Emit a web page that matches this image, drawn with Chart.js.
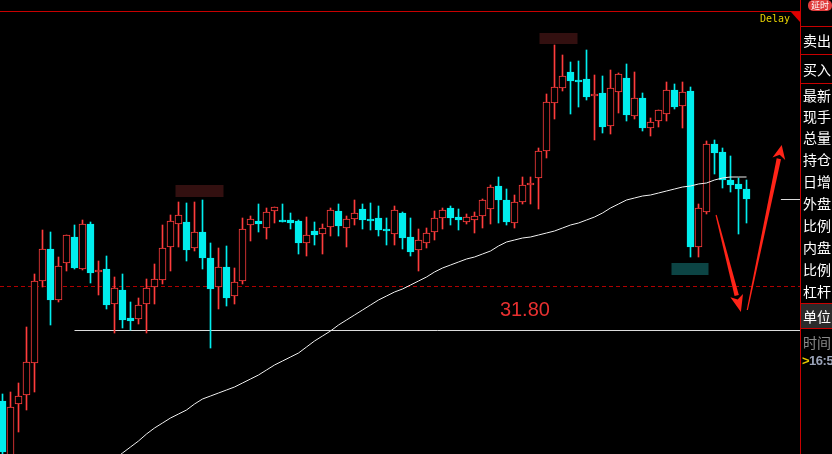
<!DOCTYPE html>
<html lang="zh">
<head>
<meta charset="UTF-8">
<title>K线图</title>
<script src="https://cdn.jsdelivr.net/npm/chart.js@4.4.1/dist/chart.umd.min.js"></script>
<style>
  html, body { margin: 0; padding: 0; background: #000; width: 832px; height: 454px; overflow: hidden; }
  #chart { position: absolute; left: 0; top: 0; }
  #topline { position: absolute; left: 0; top: 11px; width: 801px; height: 1px; background: #c80000; }
  #delay { position: absolute; left: 760px; top: 13px; font: 10px "DejaVu Sans Mono", monospace; color: #e6d200; }
  #corner { position: absolute; left: 791px; top: 12px; width: 0; height: 0;
            border-top: 10px solid #e00000; border-left: 9px solid transparent; }
  #panel { position: absolute; left: 800px; top: 0; width: 32px; height: 454px; border-left: 1px solid #c80000;
           font-family: "Noto Sans CJK SC", sans-serif; color: #fff; font-size: 14px; overflow: hidden; }
  .row { position: absolute; left: 2px; line-height: 16px; white-space: nowrap; }
  .hl { position: absolute; left: 0; width: 32px; height: 1px; background: #c80000; }
  #badge { position: absolute; left: 7px; top: 0px; width: 24px; height: 11px; border-radius: 5px;
           background: #e03c3c; color: #fff; font-size: 9px; line-height: 11px; text-align: center; }
  #unit { position: absolute; left: 0; top: 304px; width: 32px; height: 24px; background: #2b2b2b; }
</style>
</head>
<body>
<canvas id="chart" width="800" height="454"></canvas>
<div id="topline"></div>
<div id="delay">Delay</div>
<div id="corner"></div>
<div id="panel">
  <div id="badge">延时</div>
  <div class="hl" style="top:26px"></div>
  <div class="row" style="top:32px">卖出</div>
  <div class="hl" style="top:54px"></div>
  <div class="row" style="top:61px">买入</div>
  <div class="hl" style="top:83px"></div>
  <div class="row" style="top:87px">最新</div>
  <div class="row" style="top:108px">现手</div>
  <div class="row" style="top:129px">总量</div>
  <div class="row" style="top:151px">持仓</div>
  <div class="row" style="top:173px">日增</div>
  <div class="row" style="top:195px">外盘</div>
  <div class="row" style="top:217px">比例</div>
  <div class="row" style="top:239px">内盘</div>
  <div class="row" style="top:261px">比例</div>
  <div class="row" style="top:283px">杠杆</div>
  <div class="hl" style="top:303px"></div>
  <div id="unit"></div>
  <div class="row" style="top:308px">单位</div>
  <div class="hl" style="top:328px"></div>
  <div class="row" style="top:334px;color:#8a8a8a">时间</div>
  <div class="row" style="top:353px;left:1px;color:#9aa3b8;font-weight:bold;font-size:13px;letter-spacing:-0.5px;font-family:'Liberation Sans',sans-serif"><span style="color:#e6c800">&gt;</span>16:5</div>
</div>
<script>
// OHLC, one entry per candle
const opens = [31.09, 30.55, 31.06, 31.15, 31.47, 32.29, 32.61, 32.10, 32.47, 32.73,
  32.41, 32.86, 32.38, 32.41, 32.06, 32.20, 31.92, 31.91, 32.06, 32.23,
  32.30, 32.63, 32.86, 32.88, 32.62, 32.78, 32.52, 32.23, 32.43, 32.14,
  32.29, 32.85, 32.89, 32.82, 32.99, 32.90, 32.90, 32.89, 32.67, 32.79,
  32.76, 32.83, 32.99, 32.82, 32.91, 33.01, 32.91, 32.92, 32.81, 32.76,
  32.97, 32.73, 32.60, 32.67, 32.78, 32.92, 33.02, 32.93, 32.88, 32.90,
  32.94, 33.01, 33.24, 33.10, 32.87, 33.08, 33.25, 33.32, 33.59, 34.07,
  34.22, 34.38, 34.30, 34.31, 34.14, 34.17, 33.84, 34.18, 34.32, 33.94,
  34.12, 33.82, 33.89, 33.96, 34.20, 34.04, 34.19, 32.63, 32.98, 33.66,
  33.58, 33.30, 33.26, 33.21];
const highs = [31.16, 31.18, 31.27, 31.83, 32.36, 32.80, 32.78, 32.53, 32.75, 32.85,
  32.90, 32.88, 32.49, 32.54, 32.33, 32.36, 32.08, 32.12, 32.31, 32.46,
  32.85, 32.95, 33.08, 33.07, 33.08, 33.10, 32.67, 32.62, 32.64, 32.42,
  32.92, 32.94, 33.06, 33.02, 33.03, 33.06, 32.97, 32.90, 32.93, 32.88,
  32.86, 33.02, 33.06, 32.94, 33.10, 33.06, 33.07, 33.04, 32.92, 33.04,
  32.98, 32.92, 32.81, 32.82, 32.99, 33.02, 33.04, 33.01, 32.96, 32.98,
  33.11, 33.25, 33.33, 33.21, 33.15, 33.33, 33.33, 33.62, 34.16, 34.65,
  34.55, 34.48, 34.49, 34.60, 34.35, 34.34, 34.40, 34.37, 34.46, 34.38,
  34.17, 33.92, 34.00, 34.28, 34.26, 34.28, 34.23, 33.06, 33.69, 33.70,
  33.62, 33.54, 33.32, 33.30];
const lows = [30.50, 30.50, 30.78, 31.00, 31.18, 32.23, 31.85, 32.08, 32.39, 32.41,
  32.40, 32.27, 32.15, 32.01, 31.77, 31.82, 31.80, 31.86, 31.77, 32.06,
  32.26, 32.39, 32.63, 32.49, 32.59, 32.41, 31.62, 32.01, 32.04, 32.06,
  32.26, 32.69, 32.78, 32.71, 32.87, 32.88, 32.81, 32.56, 32.54, 32.65,
  32.56, 32.74, 32.74, 32.63, 32.85, 32.81, 32.80, 32.74, 32.65, 32.65,
  32.61, 32.54, 32.39, 32.62, 32.70, 32.81, 32.85, 32.80, 32.86, 32.77,
  32.82, 32.86, 32.87, 32.85, 32.82, 33.06, 33.06, 33.01, 33.52, 33.91,
  34.19, 33.96, 34.03, 34.10, 33.70, 33.77, 33.76, 33.97, 33.89, 33.91,
  33.79, 33.74, 33.83, 33.89, 34.01, 33.82, 32.53, 32.53, 32.96, 33.36,
  33.22, 33.18, 32.76, 32.87];
const closes = [30.58, 31.03, 31.14, 31.48, 32.29, 32.61, 32.10, 32.44, 32.75, 32.42,
  32.86, 32.37, 32.40, 32.05, 32.22, 31.90, 31.89, 32.05, 32.22, 32.31,
  32.62, 32.89, 32.95, 32.60, 32.78, 32.52, 32.21, 32.43, 32.12, 32.28,
  32.81, 32.91, 32.86, 32.98, 33.03, 32.88, 32.87, 32.67, 32.75, 32.75,
  32.82, 33.00, 32.84, 32.91, 32.97, 32.90, 32.89, 32.80, 32.79, 33.00,
  32.72, 32.58, 32.70, 32.77, 32.92, 33.00, 32.92, 32.90, 32.93, 32.94,
  33.10, 33.23, 33.10, 32.88, 33.08, 33.25, 33.27, 33.59, 34.08, 34.23,
  34.34, 34.29, 34.28, 34.13, 34.16, 33.83, 34.22, 34.36, 33.95, 34.12,
  33.82, 33.88, 34.00, 34.20, 34.03, 34.18, 32.63, 33.02, 33.66, 33.57,
  33.30, 33.25, 33.21, 33.11];
// white moving average (starts below the visible range)
const ma = [null, null, null, null, null, null, null, null, null, null,
  null, null, null, null, 30.51, 30.57, 30.63, 30.69, 30.76, 30.82,
  30.87, 30.92, 30.96, 31.00, 31.06, 31.11, 31.14, 31.17, 31.20, 31.23,
  31.27, 31.31, 31.35, 31.40, 31.45, 31.49, 31.53, 31.57, 31.63, 31.69,
  31.74, 31.79, 31.85, 31.90, 31.95, 32.00, 32.05, 32.10, 32.14, 32.18,
  32.21, 32.25, 32.29, 32.33, 32.38, 32.42, 32.45, 32.48, 32.51, 32.53,
  32.56, 32.59, 32.64, 32.68, 32.70, 32.72, 32.73, 32.75, 32.77, 32.79,
  32.82, 32.85, 32.87, 32.90, 32.93, 32.97, 33.02, 33.06, 33.10, 33.12,
  33.14, 33.15, 33.17, 33.19, 33.21, 33.23, 33.24, 33.26, 33.27, 33.30,
  33.32, 33.33, 33.33, 33.33];

const supportPrice = 31.80;   // white line + label
const dashPrice = 32.24;      // red dashed line
const supportFrom = 9;        // candle where the white line starts
// hand-drawn arrows: [index, price] pairs
const arrows = [
  { from: [89.2, 32.95], to: [92.3, 31.98] },
  { from: [93.1, 32.00], to: [97.4, 33.65] }
];

const RED = '#ff3c3c', CYAN = '#00eeee';
const isUp = opens.map((o, i) => closes[i] >= o);
const fillColors = isUp.map(u => u ? '#000' : CYAN);
const lineColors = isUp.map(u => u ? RED : CYAN);

function drawArrow(ctx, x1, y1, x2, y2, headLen, headW) {
  const dx = x2 - x1, dy = y2 - y1, len = Math.hypot(dx, dy);
  const ux = dx / len, uy = dy / len, nx = -uy, ny = ux;
  const bx = x2 - ux * headLen, by = y2 - uy * headLen;
  ctx.fillStyle = '#ff2418';
  ctx.beginPath();
  ctx.moveTo(x1 + nx * 0.6, y1 + ny * 0.6);
  ctx.lineTo(bx + nx * 2.2, by + ny * 2.2);
  ctx.lineTo(bx - nx * 2.2, by - ny * 2.2);
  ctx.lineTo(x1 - nx * 0.6, y1 - ny * 0.6);
  ctx.closePath();
  ctx.fill();
  ctx.beginPath();
  ctx.moveTo(x2, y2);
  ctx.lineTo(bx + nx * headW, by + ny * headW);
  ctx.lineTo(bx + ux * 4, by + uy * 4);
  ctx.lineTo(bx - nx * headW, by - ny * headW);
  ctx.closePath();
  ctx.fill();
}

const decor = {
  id: 'decor',
  beforeDatasetsDraw(chart) {
    const { ctx, chartArea: a, scales: { x, y } } = chart;
    ctx.save();
    ctx.fillStyle = '#000';
    ctx.fillRect(0, 0, chart.width, chart.height);
    // censored price tags
    ctx.fillStyle = '#331010';
    ctx.fillRect(x.getPixelForValue(22) - 3, y.getPixelForValue(33.25), 48, 12);
    ctx.fillRect(x.getPixelForValue(67) + 1, y.getPixelForValue(34.77), 38, 11);
    ctx.fillStyle = '#0c4444';
    ctx.fillRect(x.getPixelForValue(84) - 3, y.getPixelForValue(32.47), 37, 12);
    // red dashed level
    ctx.strokeStyle = '#b00000';
    ctx.lineWidth = 1;
    ctx.setLineDash([4, 3]);
    const yd = Math.round(y.getPixelForValue(dashPrice)) + 0.5;
    ctx.beginPath(); ctx.moveTo(a.left, yd); ctx.lineTo(a.right, yd); ctx.stroke();
    ctx.setLineDash([]);
    // white support line
    const ys = Math.round(y.getPixelForValue(supportPrice)) + 0.5;
    ctx.strokeStyle = '#dcdcdc';
    ctx.beginPath(); ctx.moveTo(x.getPixelForValue(supportFrom), ys); ctx.lineTo(a.right, ys); ctx.stroke();
    // last price marker
    const yl = Math.round(y.getPixelForValue(closes[closes.length - 1])) + 0.5;
    ctx.beginPath(); ctx.moveTo(x.getPixelForValue(97.3), yl); ctx.lineTo(a.right, yl); ctx.stroke();
    ctx.restore();
  },
  afterDatasetsDraw(chart) {
    const { ctx, scales: { x, y } } = chart;
    ctx.save();
    ctx.fillStyle = '#e83030';
    ctx.font = '20px "Liberation Sans", Arial, sans-serif';
    ctx.textAlign = 'center';
    ctx.textBaseline = 'middle';
    ctx.fillText(supportPrice.toFixed(2), x.getPixelForValue(65.3), y.getPixelForValue(supportPrice) - 20);
    arrows.forEach((ar, k) => {
      drawArrow(ctx, x.getPixelForValue(ar.from[0]), y.getPixelForValue(ar.from[1]),
        x.getPixelForValue(ar.to[0]), y.getPixelForValue(ar.to[1]), k === 0 ? 17 : 14, 6.5);
    });
    ctx.restore();
  }
};

new Chart(document.getElementById('chart'), {
  data: {
    datasets: [
      {
        type: 'line',
        data: ma.map((v, i) => ({ x: i, y: v })),
        borderColor: '#eeeeee',
        borderWidth: 1,
        pointRadius: 0,
        tension: 0,
        order: 0
      },
      {
        type: 'bar',
        data: opens.map((o, i) => ({ x: i, y: [o, closes[i]] })),
        backgroundColor: fillColors,
        borderColor: lineColors,
        borderWidth: 1,
        borderSkipped: false,
        barThickness: 7,
        grouped: false,
        order: 1
      },
      {
        type: 'bar',
        data: highs.map((h, i) => ({ x: i, y: [lows[i], h] })),
        backgroundColor: lineColors,
        borderWidth: 0,
        barThickness: 1,
        grouped: false,
        order: 2
      }
    ]
  },
  options: {
    responsive: false,
    animation: false,
    devicePixelRatio: 1,
    layout: { padding: { top: 12, left: 0, right: 0, bottom: 0 } },
    plugins: { legend: { display: false }, tooltip: { enabled: false } },
    scales: {
      x: { type: 'linear', offset: false, min: -0.3125, max: 99.6875, display: false },
      y: { min: 30.56, max: 34.98, display: false }
    }
  },
  plugins: [decor]
});
</script>
</body>
</html>
